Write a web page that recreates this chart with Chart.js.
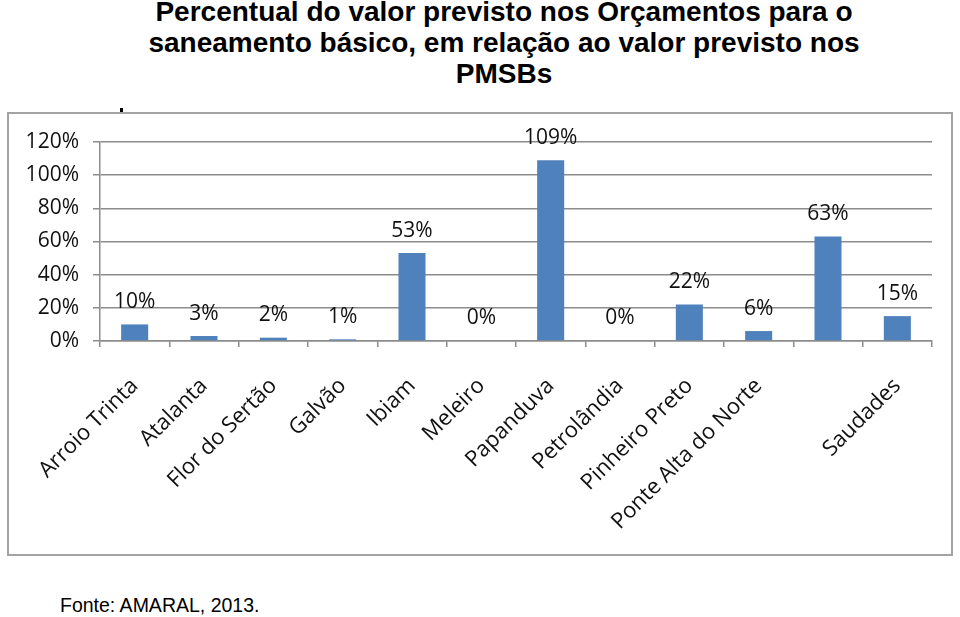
<!DOCTYPE html>
<html>
<head>
<meta charset="utf-8">
<script src="https://cdn.jsdelivr.net/npm/chart.js@4"></script>
<style>
  html, body { margin: 0; padding: 0; background: #fff; }
  body { width: 960px; height: 617px; position: relative; overflow: hidden; }
  #titulo {
    position: absolute; left: 0; top: -4px; width: 1008px;
    text-align: center; font-family: "Liberation Sans", Arial, sans-serif;
    font-weight: bold; font-size: 28px; line-height: 31px; color: #000;
  }
  #caixa {
    position: absolute; left: 7px; top: 112px; width: 942px; height: 440px;
    border: 2px solid #a3a3a3;
  }
  #ponto { position: absolute; left: 120px; top: 108px; width: 3px; height: 4px; background: #000; }
  #fonte {
    position: absolute; left: 60px; top: 594px;
    font-family: "Liberation Sans", Arial, sans-serif; font-size: 19.5px; color: #000;
  }
</style>
</head>
<body>
<div id="titulo">Percentual do valor previsto nos Orçamentos para o<br>saneamento básico, em relação ao valor previsto nos<br>PMSBs</div>
<div id="ponto"></div>
<div id="caixa"><canvas id="grafico" width="942" height="440"></canvas></div>
<div id="fonte">Fonte: AMARAL, 2013.</div>
<script>
// a figura tem 12 barras mas só 11 nomes; a 11ª barra (63%) não tem rótulo no eixo
const categorias = ['Arroio Trinta', 'Atalanta', 'Flor do Sertão', 'Galvão', 'Ibiam', 'Meleiro',
  'Papanduva', 'Petrolândia', 'Pinheiro Preto', 'Ponte Alta do Norte', '', 'Saudades'];
const percentuais = [10, 3, 2, 1, 53, 0, 109, 0, 22, 6, 63, 15];
const rotulos = ['10%', '3%', '2%', '1%', '53%', '0%', '109%', '0%', '22%', '6%', '63%', '15%'];
const ticksY = [0, 20, 40, 60, 80, 100, 120];

const corTexto = '#111';
const fonteGrafico = '"Open Sans", sans-serif';

// escreve o valor em cima de cada barra
const valoresPlugin = {
  id: 'valores',
  afterDatasetsDraw(chart) {
    const ctx = chart.ctx;
    const meta = chart.getDatasetMeta(0);
    ctx.save();
    ctx.font = '21px ' + fonteGrafico;
    ctx.fillStyle = corTexto;
    ctx.textAlign = 'center';
    ctx.textBaseline = 'bottom';
    meta.data.forEach((bar, i) => {
      ctx.fillText(rotulos[i], bar.x, bar.y - 12);
    });
    ctx.restore();
  }
};

new Chart(document.getElementById('grafico'), {
  type: 'bar',
  data: {
    labels: categorias,
    datasets: [{
      data: percentuais,
      backgroundColor: '#4f81bd',
      borderWidth: 0,
      barPercentage: 0.39,
      categoryPercentage: 1
    }]
  },
  options: {
    responsive: false,
    animation: false,
    layout: { padding: { top: 28, right: 19, left: 0, bottom: 0 } },
    plugins: { legend: { display: false }, tooltip: { enabled: false } },
    scales: {
      x: {
        grid: { drawOnChartArea: false, color: '#8c8c8c', tickLength: 6, lineWidth: 1.5 },
        border: { color: '#8c8c8c', width: 1.5 },
        ticks: {
          color: corTexto, font: { family: fonteGrafico, size: 22 },
          minRotation: 45, maxRotation: 45, padding: 26, autoSkip: false
        },
        afterFit(scale) { scale.height = 213; }
      },
      y: {
        min: 0, max: 120,
        afterBuildTicks(scale) { scale.ticks = ticksY.map(v => ({ value: v })); },
        grid: { color: '#8c8c8c', tickLength: 7, lineWidth: 1.5 },
        border: { color: '#8c8c8c', width: 1.5 },
        ticks: {
          color: corTexto, font: { family: fonteGrafico, size: 21 }, padding: 14,
          callback: v => v + '%'
        },
        afterFit(scale) { scale.width = 91; }
      }
    }
  },
  plugins: [valoresPlugin]
});
</script>
</body>
</html>
